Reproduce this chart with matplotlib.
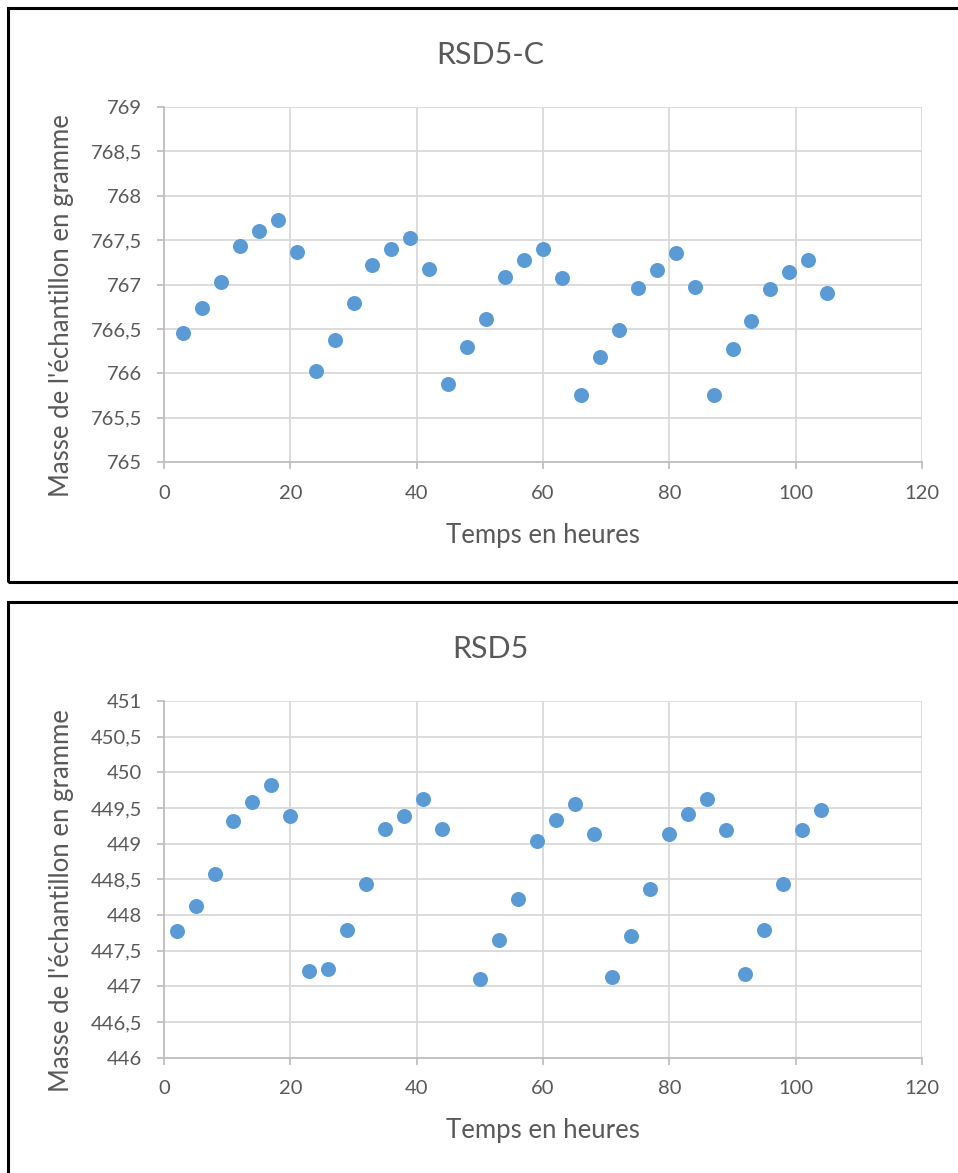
import matplotlib
matplotlib.use('Agg')
import matplotlib.pyplot as plt
from matplotlib.ticker import FuncFormatter, MultipleLocator
from matplotlib.patches import Rectangle

plt.rcParams['font.family'] = ['Lato', 'DejaVu Sans']

# RSD5-C : mesures toutes les 3 heures
temps_c = [3, 6, 9, 12, 15, 18, 21, 24, 27, 30, 33, 36, 39, 42, 45, 48, 51, 54,
           57, 60, 63, 66, 69, 72, 75, 78, 81, 84, 87, 90, 93, 96, 99, 102, 105]
masse_c = [766.45, 766.74, 767.03, 767.43, 767.60, 767.72, 767.36, 766.03, 766.38,
           766.79, 767.22, 767.40, 767.52, 767.17, 765.88, 766.30, 766.61, 767.08,
           767.28, 767.40, 767.07, 765.76, 766.18, 766.49, 766.96, 767.16, 767.35,
           766.97, 765.76, 766.27, 766.59, 766.95, 767.14, 767.27, 766.91]

# RSD5
temps = [2, 5, 8, 11, 14, 17, 20, 23, 26, 29, 32, 35, 38, 41, 44, 50, 53, 56, 59,
         62, 65, 68, 71, 74, 77, 80, 83, 86, 89, 92, 95, 98, 101, 104]
masse = [447.77, 448.13, 448.58, 449.32, 449.58, 449.82, 449.39, 447.22, 447.24,
         447.79, 448.43, 449.20, 449.39, 449.63, 449.21, 447.11, 447.65, 448.23,
         449.04, 449.33, 449.56, 449.14, 447.13, 447.71, 448.37, 449.14, 449.42,
         449.62, 449.19, 447.17, 447.79, 448.43, 449.19, 449.47]

W, H = 958, 1173
gris = '#595959'
bleu = '#5B9BD5'

fig = plt.figure(figsize=(W / 100, H / 100), dpi=100)


def virgule(v, pos):
    return '{:g}'.format(v).replace('.', ',')


def px(xp, yp):
    # pixels -> coordonnées figure
    return xp / W, 1 - yp / H


def graphe(x, y, titre, ymin, ymax, top_px, bottom_px, frame_top, frame_bottom):
    # cadre noir autour du graphique
    fig.patches.append(Rectangle(px(8, frame_bottom), 1.2, (frame_bottom - frame_top) / H,
                                 transform=fig.transFigure, fill=False, edgecolor='black',
                                 linewidth=2.2, clip_on=False))
    ax = fig.add_axes([164 / W, 1 - bottom_px / H, 758 / W, (bottom_px - top_px) / H])
    ax.plot(x, y, 'o', color=bleu, markersize=10.8, markeredgewidth=0, zorder=3)
    ax.set_xlim(0, 120)
    ax.set_ylim(ymin, ymax)
    ax.xaxis.set_major_locator(MultipleLocator(20))
    ax.yaxis.set_major_locator(MultipleLocator(0.5))
    ax.yaxis.set_major_formatter(FuncFormatter(virgule))
    ax.grid(True, color='#d9d9d9', linewidth=1.3)
    ax.set_axisbelow(True)
    for s in ['top', 'right']:
        ax.spines[s].set_visible(False)
    for s in ['left', 'bottom']:
        ax.spines[s].set_color('#bfbfbf')
        ax.spines[s].set_linewidth(1.3)
    ax.tick_params(axis='both', colors='#bfbfbf', labelcolor=gris, labelsize=14.5,
                   length=5, width=1.3, pad=11)

    fig.text(*px(490, frame_top + 47), titre, fontsize=22, color=gris,
             ha='center', va='center')
    fig.text(*px(543, bottom_px + 73), 'Temps en heures', fontsize=18.5, color=gris,
             ha='center', va='center')
    fig.text(*px(62, (top_px + bottom_px) / 2 + 21), "Masse de l'échantillon en gramme",
             fontsize=18.5, color=gris, rotation=90, ha='center', va='center')
    return ax


graphe(temps_c, masse_c, 'RSD5-C', 765, 769, 106.7, 462.3, 8, 582)
graphe(temps, masse, 'RSD5', 446, 451, 701, 1057.7, 602, 1190)

plt.savefig('out.png', dpi=100)
